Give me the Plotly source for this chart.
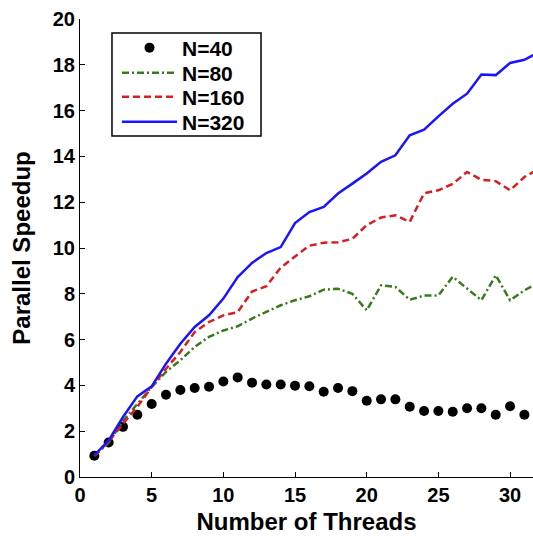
import plotly.graph_objects as go

threads40 = list(range(1, 32))
speedup40 = [0.93, 1.51, 2.19, 2.72, 3.19, 3.59, 3.80, 3.89, 3.94, 4.17, 4.35, 4.12, 4.04, 4.04,
             3.99, 3.96, 3.72, 3.89, 3.75, 3.33, 3.39, 3.39, 3.07, 2.88, 2.88, 2.85, 3.0, 3.0,
             2.72, 3.09, 2.72]

threads = list(range(1, 33))
speedup80 = [0.92, 1.5, 2.45, 3.2, 3.93, 4.59, 5.1, 5.68, 6.12, 6.4, 6.58, 6.92, 7.21, 7.5,
             7.72, 7.89, 8.18, 8.22, 8.0, 7.28, 8.37, 8.3, 7.74, 7.92, 7.93, 8.74, 8.23, 7.72,
             8.81, 7.72, 8.15, 8.5]
speedup160 = [0.92, 1.55, 2.33, 3.06, 3.93, 4.73, 5.46, 6.33, 6.77, 7.06, 7.2, 8.1, 8.33, 9.14,
              9.63, 10.1, 10.23, 10.25, 10.4, 11.0, 11.33, 11.43, 11.14, 12.39, 12.52, 12.8,
              13.32, 12.98, 12.92, 12.52, 13.1, 13.45]
speedup320 = [0.95, 1.6, 2.62, 3.52, 3.96, 4.95, 5.82, 6.55, 7.06, 7.79, 8.73, 9.35, 9.78, 10.04,
              11.09, 11.57, 11.79, 12.38, 12.81, 13.25, 13.76, 14.05, 14.92, 15.17, 15.75, 16.3,
              16.74, 17.58, 17.55, 18.08, 18.22, 18.55]

FONT = "Liberation Sans, Arial, sans-serif"

fig = go.Figure()
fig.add_trace(go.Scatter(x=threads40, y=speedup40, mode="lines+markers", name="N=40",
                         legend="legend",
                         line=dict(color="rgba(0,0,0,0)", width=0),
                         marker=dict(color="black", size=10, line=dict(width=0))))
fig.add_trace(go.Scatter(x=threads, y=speedup80, mode="lines", name="N=80", legend="legend2",
                         line=dict(color="#3a7a1c", width=2.5, dash="7px,3px,2px,3px")))
fig.add_trace(go.Scatter(x=threads, y=speedup160, mode="lines", name="N=160", legend="legend3",
                         line=dict(color="#d81e1e", width=2.5, dash="7px,4px")))
fig.add_trace(go.Scatter(x=threads, y=speedup320, mode="lines", name="N=320", legend="legend4",
                         line=dict(color="#1a14ff", width=2.5)))

def leg(y):
    return dict(x=0.0817, y=y, xanchor="left", yanchor="middle",
                borderwidth=0, bgcolor="rgba(0,0,0,0)", itemwidth=55,
                font=dict(family=FONT, size=21, weight="bold", color="black"))

fig.update_layout(
    width=533, height=540,
    margin=dict(l=80, r=0, t=19, b=63),
    plot_bgcolor="white", paper_bgcolor="white",
    font=dict(family=FONT, color="black", size=20, weight="bold"),
    showlegend=True,
    legend=leg(0.9367), legend2=leg(0.8821), legend3=leg(0.8297), legend4=leg(0.7751),
    shapes=[dict(type="rect", xref="paper", yref="paper", x0=0.0706, x1=0.3996,
                 y0=0.7445, y1=0.9694, line=dict(color="black", width=1.5),
                 fillcolor="white", layer="below")],
    xaxis=dict(range=[0, 31.6], tickmode="array", tickvals=[0, 5, 10, 15, 20, 25, 30],
               ticks="inside", ticklen=5, tickcolor="black", tickwidth=1,
               showline=True, linecolor="black", linewidth=1, mirror=False,
               showgrid=False, zeroline=False, automargin=False,
               tickfont=dict(family=FONT, size=20, weight="bold"),
               title=dict(text="Number of Threads", standoff=8,
                          font=dict(family=FONT, size=24, weight="bold"))),
    yaxis=dict(range=[0, 20], tickmode="array", tickvals=list(range(0, 21, 2)),
               ticks="inside", ticklen=5, tickcolor="black", tickwidth=1,
               showline=True, linecolor="black", linewidth=1, mirror=False,
               showgrid=False, zeroline=False, automargin=False,
               tickfont=dict(family=FONT, size=20, weight="bold"),
               title=dict(text="Parallel Speedup", standoff=15,
                          font=dict(family=FONT, size=24, weight="bold"))),
)

fig.write_html("out.html", config={"displayModeBar": False},
               post_script="document.body.style.margin='0';document.body.style.overflow='hidden';")
